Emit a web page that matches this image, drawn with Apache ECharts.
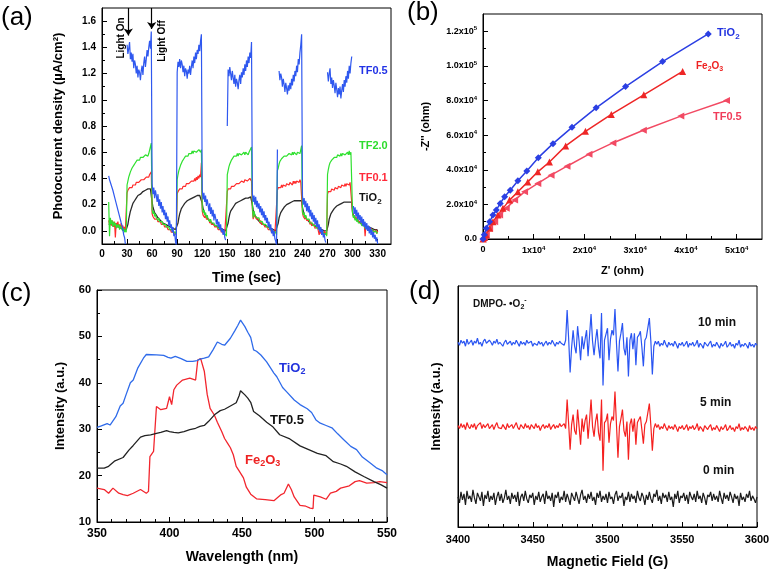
<!DOCTYPE html>
<html>
<head>
<meta charset="utf-8">
<script src="https://cdn.jsdelivr.net/npm/echarts@6.0.0/dist/echarts.min.js"></script>
<style>
html,body{margin:0;padding:0;background:#ffffff;}
#chart{width:772px;height:572px;}
</style>
</head>
<body>
<div id="chart"></div>
<script>
// ================= Panel (a): photocurrent, sampled every 1 s from t = 8 s =================
const aTimeStart = 8;
const aTimeStep = 1;
const aTF05 = [
0.42,0.39,0.40,0.35,0.34,0.31,0.30,0.26,0.25,0.21,0.20,0.16,0.15,0.11,0.10,0.06,0.04,0.01,-0.03,-0.05,-0.10,null,
1.42,1.35,1.39,1.44,1.31,1.36,1.29,1.35,1.24,1.30,1.27,1.20,1.26,1.17,1.23,1.21,1.15,1.22,1.26,1.19,1.28,1.33,1.25,1.31,1.38,1.33,1.40,1.45,1.39,1.52,
0.36,0.28,0.33,0.25,0.31,0.27,0.22,0.28,0.19,0.24,0.17,0.22,0.14,0.19,0.12,0.16,0.09,0.14,0.07,0.11,0.04,0.08,0.02,0.05,-0.01,0.03,-0.04,-0.02,-0.08,-0.12,
1.21,1.29,1.25,1.31,1.24,1.30,1.27,1.21,1.26,1.18,1.24,1.22,1.16,1.23,1.20,1.26,1.19,1.25,1.30,1.24,1.33,1.28,1.36,1.31,1.38,1.35,1.42,1.37,1.45,1.50,
0.31,0.24,0.29,0.22,0.27,0.19,0.24,0.20,0.15,0.21,0.13,0.18,0.11,0.16,0.08,0.13,0.10,0.05,0.09,0.03,0.07,0.01,0.05,-0.01,0.02,-0.03,0.01,-0.05,-0.07,null,
0.80,1.23,1.18,1.25,1.20,1.15,1.22,1.17,1.12,1.19,1.10,1.16,1.13,1.08,1.15,1.19,1.12,1.21,1.17,1.24,1.19,1.27,1.22,1.30,1.25,1.33,1.28,1.36,1.32,1.44,
0.29,0.22,0.27,0.20,0.26,0.18,0.23,0.17,0.21,0.14,0.19,0.12,0.17,0.10,0.15,0.08,0.12,0.06,0.10,0.03,0.07,0.01,0.05,-0.02,0.02,-0.04,0.00,-0.06,-0.08,-0.11,
0.62,null,1.22,1.15,1.20,1.17,1.10,1.16,1.12,1.06,1.13,1.09,1.04,1.11,1.07,1.13,1.08,1.16,1.11,1.19,1.14,1.22,1.18,1.26,1.21,1.31,1.27,1.36,1.42,1.50,
0.27,0.20,0.25,0.18,0.23,0.15,0.21,0.14,0.19,0.11,0.16,0.09,0.14,0.07,0.12,0.05,0.10,0.03,0.08,0.01,0.05,-0.01,0.03,-0.03,0.01,-0.05,-0.02,-0.07,-0.09,null,
1.21,1.14,1.20,1.24,1.12,1.17,1.09,1.15,1.11,1.05,1.13,1.08,1.02,1.09,1.04,1.10,1.01,1.07,1.12,1.06,1.15,1.10,1.18,1.13,1.22,1.16,1.26,1.20,1.28,1.33,
null,0.19,0.13,0.18,0.11,0.16,0.09,0.14,0.08,0.12,0.06,0.11,0.04,0.09,0.03,0.07,0.01,0.06,0.00,0.04,-0.02,0.03,-0.03,0.01,-0.05,-0.01,-0.06,-0.03,-0.08,-0.05,-0.10
];
const aTF20 = [
0.22,-0.04,0.10,0.05,0.08,0.03,0.07,0.04,0.06,0.02,0.05,0.03,0.05,0.01,0.04,0.02,0.03,0.00,0.02,-0.01,0.01,-0.01,
0.35,0.38,0.41,0.43,0.45,0.46,0.48,0.49,0.50,0.51,0.52,0.52,0.54,0.53,0.55,0.54,0.56,0.55,0.57,0.56,0.57,0.56,0.58,0.57,0.58,0.57,0.59,0.58,0.59,0.67,
0.16,0.13,0.15,0.11,0.13,0.10,0.11,0.08,0.10,0.07,0.08,0.06,0.07,0.05,0.06,0.04,0.05,0.03,0.04,0.02,0.03,0.01,0.02,0.00,0.01,-0.01,0.00,-0.02,-0.01,-0.03,
0.39,0.43,0.46,0.48,0.50,0.51,0.53,0.54,0.55,0.55,0.57,0.56,0.58,0.57,0.59,0.58,0.60,0.59,0.61,0.59,0.61,0.60,0.62,0.60,0.61,0.60,0.62,0.61,0.60,0.62,
0.18,0.14,0.16,0.12,0.14,0.10,0.12,0.09,0.10,0.07,0.09,0.06,0.07,0.05,0.06,0.04,0.05,0.03,0.04,0.02,0.03,0.01,0.02,0.00,0.01,-0.01,0.00,-0.02,-0.01,-0.04,
0.43,0.46,0.49,0.51,0.52,0.54,0.55,0.55,0.57,0.56,0.58,0.57,0.59,0.57,0.59,0.58,0.60,0.58,0.59,0.58,0.60,0.58,0.60,0.59,0.60,0.58,0.60,0.59,0.60,0.64,
0.19,0.10,0.15,0.12,0.13,0.10,0.11,0.09,0.10,0.07,0.08,0.06,0.07,0.05,0.06,0.04,0.05,0.03,0.04,0.02,0.03,0.01,0.02,0.00,0.01,-0.01,0.00,-0.02,-0.01,-0.03,
0.46,0.48,0.51,0.53,0.54,0.55,0.56,0.55,0.57,0.56,0.58,0.57,0.58,0.57,0.59,0.58,0.59,0.58,0.60,0.58,0.60,0.59,0.60,0.58,0.60,0.59,0.61,0.59,0.60,0.65,
0.15,0.12,0.14,0.10,0.12,0.09,0.10,0.08,0.09,0.06,0.07,0.05,0.06,0.04,0.05,0.03,0.04,0.02,0.03,0.01,0.02,0.00,0.01,-0.01,0.00,-0.02,-0.01,-0.03,-0.02,-0.04,
0.43,0.47,0.50,0.52,0.53,0.54,0.55,0.55,0.56,0.56,0.57,0.56,0.58,0.57,0.58,0.57,0.59,0.57,0.59,0.58,0.60,0.58,0.59,0.58,0.60,0.58,0.61,0.58,0.60,0.61,
0.13,0.10,0.12,0.08,0.10,0.07,0.09,0.06,0.07,0.05,0.06,0.04,0.05,0.03,0.04,0.02,0.03,0.01,0.02,0.00,0.02,0.00,0.01,-0.01,0.01,-0.01,0.00,-0.02,0.00,-0.02,-0.01
];
const aTF01 = [
0.08,0.05,0.09,0.04,0.08,0.06,0.03,0.07,-0.05,0.06,0.04,0.07,0.03,0.05,0.02,0.06,0.02,0.04,0.00,0.03,0.01,0.02,
0.29,0.31,0.30,0.33,0.32,0.34,0.33,0.35,0.34,0.36,0.35,0.37,0.36,0.38,0.37,0.38,0.37,0.39,0.38,0.40,0.39,0.40,0.39,0.41,0.40,0.42,0.41,0.43,0.42,0.45,
0.13,0.11,0.12,0.09,0.10,0.08,0.09,0.07,0.08,0.06,0.07,0.05,0.06,0.04,0.05,0.03,0.04,0.02,0.03,0.01,0.02,0.00,0.01,-0.01,0.00,-0.02,-0.01,-0.02,-0.01,-0.03,
0.28,0.30,0.31,0.32,0.31,0.33,0.32,0.34,0.33,0.35,0.34,0.36,0.35,0.37,0.36,0.37,0.36,0.38,0.37,0.39,0.38,0.40,0.38,0.41,0.39,0.42,0.40,0.43,0.41,0.52,
0.15,0.12,0.13,0.10,0.12,0.09,0.10,0.08,0.09,0.06,0.08,0.05,0.06,0.04,0.05,0.03,0.04,0.02,0.03,0.01,0.02,0.00,0.01,-0.01,0.01,-0.02,0.00,-0.02,-0.01,-0.03,
0.30,0.32,0.31,0.33,0.32,0.34,0.33,0.35,0.34,0.35,0.34,0.36,0.35,0.37,0.36,0.37,0.36,0.38,0.37,0.38,0.37,0.39,0.38,0.39,0.38,0.39,0.38,0.40,0.39,0.38,
0.17,0.09,0.13,0.11,0.12,0.09,0.10,0.08,0.09,0.06,0.08,0.05,0.06,0.04,0.05,0.03,0.04,0.02,0.03,0.01,0.02,0.00,0.01,-0.01,0.01,-0.02,0.00,-0.02,-0.01,-0.03,
0.31,0.33,0.32,0.34,0.33,0.35,0.33,0.35,0.34,0.36,0.34,0.36,0.35,0.37,0.35,0.37,0.36,0.37,0.35,0.38,0.36,0.38,0.36,0.38,0.37,0.39,0.37,0.39,0.37,0.38,
0.14,0.11,0.12,0.09,0.11,0.08,0.09,0.07,0.08,0.05,0.07,0.04,0.05,0.03,0.05,0.02,0.03,0.01,0.03,0.00,-0.03,0.01,-0.02,0.00,-0.01,-0.02,0.00,-0.03,-0.01,-0.03,
0.28,0.30,0.29,0.31,0.30,0.32,0.31,0.33,0.31,0.33,0.32,0.34,0.32,0.34,0.33,0.35,0.33,0.35,0.34,0.36,0.34,0.36,0.34,0.36,0.35,0.37,0.35,0.37,0.36,0.38,
0.14,0.11,0.12,0.09,0.11,0.08,0.10,0.07,0.08,0.06,0.07,0.05,0.06,0.04,0.05,-0.04,0.04,0.02,0.03,0.01,0.02,0.00,0.02,-0.01,0.01,0.00,0.02,-0.01,0.01,-0.02,0.00
];
const aTiO2 = [
0.05,0.05,0.05,0.05,0.04,0.04,0.04,0.04,0.04,0.03,0.03,0.03,0.03,0.03,0.02,0.02,0.02,0.02,0.01,0.01,0.01,0.01,
0.00,0.05,0.09,0.12,0.15,0.17,0.19,0.21,0.22,0.23,0.24,0.25,0.26,0.27,0.27,0.28,0.28,0.29,0.29,0.30,0.30,0.30,0.31,0.31,0.31,0.32,0.32,0.32,0.32,0.32,
0.22,0.18,0.16,0.14,0.13,0.12,0.11,0.10,0.09,0.09,0.08,0.07,0.07,0.06,0.06,0.05,0.05,0.04,0.04,0.04,0.03,0.03,0.03,0.02,0.02,0.02,0.01,0.01,0.01,0.00,
0.00,0.06,0.10,0.13,0.15,0.17,0.18,0.19,0.20,0.21,0.22,0.22,0.23,0.23,0.24,0.24,0.25,0.25,0.25,0.26,0.26,0.26,0.26,0.27,0.27,0.27,0.27,0.27,0.28,0.28,
0.21,0.17,0.15,0.13,0.12,0.11,0.10,0.09,0.08,0.08,0.07,0.06,0.06,0.05,0.05,0.04,0.04,0.04,0.03,0.03,0.03,0.02,0.02,0.02,0.01,0.01,0.01,0.00,0.00,0.00,
0.00,0.06,0.10,0.13,0.15,0.16,0.17,0.18,0.19,0.20,0.21,0.21,0.22,0.22,0.23,0.23,0.23,0.24,0.24,0.24,0.24,0.25,0.25,0.25,0.25,0.25,0.25,0.26,0.26,0.26,
0.20,0.16,0.14,0.12,0.11,0.10,0.09,0.08,0.08,0.07,0.06,0.06,0.05,0.05,0.04,0.04,0.04,0.03,0.03,0.03,0.02,0.02,0.02,0.01,0.01,0.01,0.01,0.00,0.00,0.00,
0.00,0.06,0.10,0.12,0.14,0.15,0.16,0.17,0.18,0.19,0.19,0.20,0.20,0.21,0.21,0.21,0.22,0.22,0.22,0.22,0.23,0.23,0.23,0.23,0.23,0.23,0.23,0.23,0.23,0.23,
0.18,0.15,0.13,0.11,0.10,0.09,0.08,0.08,0.07,0.06,0.06,0.05,0.05,0.04,0.04,0.04,0.03,0.03,0.03,0.02,0.02,0.02,0.01,0.01,0.01,0.01,0.00,0.00,0.00,0.00,
0.00,0.05,0.09,0.11,0.13,0.14,0.15,0.16,0.17,0.18,0.18,0.19,0.19,0.20,0.20,0.20,0.21,0.21,0.21,0.21,0.22,0.22,0.22,0.22,0.22,0.22,0.22,0.22,0.22,0.22,
0.14,0.12,0.11,0.10,0.09,0.08,0.08,0.07,0.07,0.06,0.06,0.05,0.05,0.05,0.04,0.04,0.04,0.03,0.03,0.03,0.03,0.02,0.02,0.02,0.02,0.01,0.01,0.01,0.01,0.01,0.00
];
const aXTicks = [0,30,60,90,120,150,180,210,240,270,300,330];
const aXLabels = ['0','30','60','90','120','150','180','210','240','270','300','330'];
const aXMinor = [15,45,75,105,135,165,195,225,255,285,315];
const aYTicks = [0,0.2,0.4,0.6,0.8,1.0,1.2,1.4,1.6];
const aYLabels = ['0.0','0.2','0.4','0.6','0.8','1.0','1.2','1.4','1.6'];
const aYMinor = [0.1,0.3,0.5,0.7,0.9,1.1,1.3,1.5];
const aArrowOn = [31.5, 1.7, 1.49];   // time, arrow tail, arrow tip
const aArrowOff = [59.5, 1.7, 1.54];

// ================= Panel (b): Nyquist plot [Z', -Z''] =================
const bTiO2 = [[0,0],[250,2500],[650,6160],[1310,9970],[1960,13800],[2620,16700],[3400,20560],[4260,24400],[5370,28200],[6880,33600],[8640,39350],[10900,47000],[13800,55100],[17550,64500],[22300,75800],[28100,88100],[35400,102500],[44400,118500]];
const bFe2O3 = [[0,0],[250,800],[650,2300],[1310,6160],[1960,9970],[2950,13800],[3930,17700],[5240,22470],[6880,27250],[8840,33000],[10800,38800],[13100,44500],[16300,53800],[20200,62200],[25300,72000],[31700,83300],[39350,96800]];
const bTF05 = [[0,0],[250,800],[650,2300],[1310,6160],[2300,9970],[3280,13800],[4580,17700],[6230,22470],[8190,27250],[10800,32080],[13420,36870],[16560,42050],[20900,49000],[25600,55500],[31600,62800],[39000,71000],[48000,80000]];
const bXTicks = [0,10000,20000,30000,40000,50000];
const bXLabels = ['0','1x10^4','2x10^4','3x10^4','4x10^4','5x10^4'];
const bXMinor = [5000,15000,25000,35000,45000];
const bYTicks = [0,20000,40000,60000,80000,100000,120000];
const bYLabels = ['0.0','2.0x10^4','4.0x10^4','6.0x10^4','8.0x10^4','1.0x10^5','1.2x10^5'];
const bYMinor = [10000,30000,50000,70000,90000,110000];

// ================= Panel (c): PL spectra [wavelength, intensity] =================
const cTiO2 = [[350,30.4],[353,30.7],[357,31.2],[359,30.9],[363,32.7],[366,35.0],[368,35.6],[370,37.4],[373,40.0],[375,40.6],[378,43.1],[382,45.3],[384,46.1],[391,46.0],[396,45.9],[399,45.5],[401,45.3],[404,45.7],[408,45.2],[412,44.6],[416,44.6],[419,44.8],[421,45.1],[424,45.3],[427,45.6],[430,47.1],[433,48.8],[436,48.3],[438,48.1],[442,49.6],[445,51.2],[447,52.3],[449,53.5],[450,53.7],[452,52.1],[454,50.9],[456,49.8],[458,47.1],[460,46.8],[463,46.0],[467,44.5],[472,42.1],[474,41.3],[478,39.0],[481,38.0],[486,36.3],[490,35.3],[495,34.4],[498,33.6],[501,32.0],[504,31.3],[508,30.8],[512,30.3],[516,29.0],[520,27.8],[525,26.3],[529,25.6],[533,24.0],[538,22.8],[543,21.6],[547,21.0],[550,20.2]];
const cTF05 = [[350,21.6],[355,21.6],[358,22.0],[362,23.1],[368,23.9],[372,25.5],[375,26.5],[380,28.3],[383,28.6],[387,28.8],[391,29.1],[394,29.3],[398,29.7],[400,29.5],[403,29.3],[406,29.2],[410,29.5],[414,29.9],[418,30.2],[421,30.6],[424,30.8],[427,31.7],[431,33.1],[435,34.0],[438,34.3],[442,35.0],[446,35.7],[448,37.2],[449,38.3],[452,37.4],[454,36.7],[456,35.8],[458,33.8],[462,32.9],[467,31.5],[471,30.6],[476,28.8],[483,27.9],[490,26.4],[496,25.6],[502,24.8],[508,24.3],[513,23.0],[518,22.5],[522,22.0],[528,20.8],[534,19.8],[541,18.7],[546,18.0],[550,17.3]];
const cFe2O3 = [[350,17.3],[355,17.0],[358,16.2],[361,17.3],[365,16.2],[368,15.9],[371,15.7],[375,16.2],[380,17.0],[384,16.2],[385.5,16.6],[386.5,24.1],[389,25.2],[390,25.0],[391,34.9],[394,34.2],[398,34.5],[400,37.0],[401.5,35.3],[403,38.5],[405,39.5],[409,40.6],[414,41.0],[418,40.6],[419.5,44.9],[421.5,45.2],[424,42.5],[426,37.5],[428,34.5],[431,33.0],[433,31.5],[436,29.5],[438,28.0],[440,27.0],[442,26.0],[444,24.5],[446,22.0],[448,21.0],[451,19.5],[453,17.5],[456,16.0],[460,15.0],[466,14.8],[472,14.6],[477,15.9],[479,16.2],[482,18.2],[484,17.0],[486,15.4],[490,13.6],[494,13.4],[497,13.0],[499,12.9],[499.5,15.8],[504,15.4],[508,14.9],[511,16.2],[515,16.6],[518,17.3],[524,17.8],[528,18.7],[531,18.9],[536,18.4],[541,18.5],[545,18.7],[550,18.5]];
const cXTicks = [350,400,450,500,550];
const cXLabels = ['350','400','450','500','550'];
const cXMinor = [360,370,380,390,410,420,430,440,460,470,480,490,510,520,530,540];
const cYTicks = [10,20,30,40,50,60];
const cYLabels = ['10','20','30','40','50','60'];
const cYMinor = [15,25,35,45,55];

// ================= Panel (d): EPR spectra, one value every 1 G from 3400 G (offset, arbitrary units) =================
const dFieldStart = 3400;
const dFieldStep = 1;
const d10min = [
184,181,186,183,185,180,187,182,184,186,181,185,183,188,182,184,180,185,187,183,
182,186,184,181,185,183,187,182,184,185,180,184,186,182,183,185,181,184,182,186,
183,180,185,182,184,181,186,183,182,185,180,183,184,181,185,182,184,180,183,185,
181,184,182,186,183,180,184,182,185,183,
184,181,186,216,188,154,179,196,180,173,200,185,166,190,177,187,196,170,191,212,
185,171,186,197,179,168,213,141,186,185,198,166,187,196,191,217,183,155,185,193,
203,178,171,189,150,186,193,177,193,161,189,191,195,179,160,186,189,189,208,185,
152,180,185,
182,185,180,183,181,186,182,179,184,181,183,180,185,182,178,183,181,184,180,182,
185,179,183,181,184,180,182,186,179,183,181,178,184,182,180,183,185,179,182,180,
184,181,178,183,180,182,185,179,181,184,180,182,178,183,181,186,179,182,180,183,
181,178,184,180,182,179,183,181
];
const d5min = [
101,98,103,99,102,97,104,100,98,102,99,103,97,101,100,104,98,102,99,101,
103,98,100,102,97,101,104,99,100,98,102,101,97,103,99,100,102,98,101,104,
99,97,102,100,98,103,99,101,97,102,100,98,103,99,101,96,100,102,98,101,
99,103,97,100,102,98,101,99,103,100,
100,103,98,127,103,77,102,112,96,92,117,100,82,108,95,106,112,88,106,127,
100,90,105,113,94,86,127,56,104,106,113,84,103,110,106,135,102,69,100,108,
117,96,90,105,67,102,108,95,108,82,104,107,110,97,83,102,105,104,123,101,
76,98,103,
99,102,97,100,98,103,99,96,101,98,100,97,102,99,95,100,98,101,97,99,
102,96,100,98,101,97,99,103,96,100,98,95,101,99,97,100,102,96,99,97,
101,98,95,100,97,99,102,96,98,101,97,99,95,100,98,103,96,99,97,100,
98,95,101,97,99,96,100,98
];
const d0min = [
30,24,35,27,33,22,36,28,31,25,37,29,23,34,30,26,35,21,32,28,
36,25,31,27,34,22,30,35,26,33,24,29,37,27,31,23,34,28,32,25,
35,21,30,33,26,36,28,24,32,29,34,22,31,27,35,25,30,33,23,36,
28,31,26,34,20,32,29,35,24,30,27,36,25,33,28,22,34,30,26,35,
29,23,32,37,27,31,24,33,28,35,26,30,22,34,29,36,25,31,27,33,
24,35,28,30,23,32,36,26,31,29,34,21,30,27,35,25,33,28,31,24,
36,29,26,34,30,22,32,27,35,28,24,33,30,37,26,31,23,34,29,32,
25,35,27,30,20,33,28,36,24,31,29,34,26,32,23,35,30,27,33,25,
36,28,31,24,34,29,22,32,30,35,26,33,27,31,25,36,29,23,34,28,
32,26,35,30,24,33,28,31,21,34,27,30,25,33,29,36,26,31,28,24,
30
];
const dXTicks = [3400,3450,3500,3550,3600];
const dXLabels = ['3400','3450','3500','3550','3600'];
const dXMinor = [3410,3420,3430,3440,3460,3470,3480,3490,3510,3520,3530,3540,3560,3570,3580,3590];

// ================= helpers =================
const FONT = "'Liberation Sans', Arial, Helvetica, sans-serif";
function sampled(start, step, arr) { return arr.map((v, i) => [start + i * step, v]); }
function lookup(ticks, labels) {
  return function (v) {
    const i = ticks.findIndex(t => Math.abs(t - v) < 1e-9);
    const s = i >= 0 ? labels[i] : '';
    const k = s.indexOf('^');
    return k < 0 ? '{m|' + s + '}' : '{m|' + s.slice(0, k) + '}{p|' + s.slice(k + 1) + '}';
  };
}
function richFor(fs) {
  return {
    m: { fontFamily: FONT, fontWeight: 'bold', fontSize: fs, color: '#000' },
    p: { fontFamily: FONT, fontWeight: 'bold', fontSize: Math.round(fs * 0.7), color: '#000', padding: [0, 0, Math.round(fs * 0.6), 0] }
  };
}
function axisPair(dim, gi, min, max, ticks, labels, minors, o) {
  const pos = dim === 'x' ? 'bottom' : 'left';
  const main = {
    type: 'value', gridIndex: gi, position: pos, min: min, max: max,
    axisLine: { show: true, onZero: false, lineStyle: { color: '#000', width: 1 } },
    axisTick: { show: ticks.length > 0, inside: true, length: 5, customValues: ticks.length ? ticks : undefined, lineStyle: { color: '#000', width: 1 } },
    axisLabel: { show: labels.length > 0, customValues: ticks.length ? ticks : undefined, formatter: lookup(ticks, labels), margin: o.margin,
      rich: richFor(o.fs), fontFamily: FONT, fontWeight: 'bold', fontSize: o.fs, color: '#000' },
    splitLine: { show: false },
    name: o.name, nameLocation: 'middle', nameGap: o.gap,
    nameTextStyle: { fontFamily: FONT, fontWeight: 'bold', fontSize: o.nfs, color: '#000' }
  };
  const minor = {
    type: 'value', gridIndex: gi, position: pos, min: min, max: max,
    axisLine: { show: false, onZero: false },
    axisTick: { show: minors.length > 0, inside: true, length: 3, customValues: minors.length ? minors : undefined, lineStyle: { color: '#000', width: 1 } },
    axisLabel: { show: false }, splitLine: { show: false }
  };
  return [main, minor];
}
function txt(x, y, text, color, size, rich, extra) {
  const el = { type: 'text', x: x, y: y, z: 100, silent: true,
    style: { text: text, fill: color, font: 'bold ' + size + 'px ' + FONT, align: 'left', verticalAlign: 'middle' } };
  if (rich) el.style.rich = rich;
  return Object.assign(el, extra || {});
}
function subRich(color, size) {
  return {
    n: { fill: color, fontFamily: FONT, fontWeight: 'bold', fontSize: size },
    s: { fill: color, fontFamily: FONT, fontWeight: 'bold', fontSize: Math.round(size * 0.72), padding: [Math.round(size * 0.6), 0, 0, 0] },
    p: { fill: color, fontFamily: FONT, fontWeight: 'bold', fontSize: Math.round(size * 0.72), padding: [0, 0, Math.round(size * 0.8), 0] }
  };
}

const gridBase = { show: true, borderColor: '#000', borderWidth: 1, backgroundColor: 'transparent', containLabel: false, outerBoundsMode: 'none' };
const xAxes = [].concat(
  axisPair('x', 0, 0, 346, aXTicks, aXLabels, aXMinor, { fs: 10, margin: 5, name: 'Time (sec)', gap: 27, nfs: 14 }),
  axisPair('x', 1, 0, 55000, bXTicks, bXLabels, bXMinor, { fs: 9, margin: 6, name: "Z' (ohm)", gap: 26, nfs: 11 }),
  axisPair('x', 2, 350, 550, cXTicks, cXLabels, cXMinor, { fs: 12, margin: 6, name: 'Wavelength (nm)', gap: 28, nfs: 14 }),
  axisPair('x', 3, 3400, 3600, dXTicks, dXLabels, dXMinor, { fs: 11, margin: 7, name: 'Magnetic Field (G)', gap: 28, nfs: 14 })
);
const yAxes = [].concat(
  axisPair('y', 0, -0.1, 1.7, aYTicks, aYLabels, aYMinor, { fs: 10, margin: 6, name: 'Photocurrent density (µA/cm²)', gap: 37, nfs: 13 }),
  axisPair('y', 1, 0, 130000, bYTicks, bYLabels, bYMinor, { fs: 9, margin: 6, name: "-Z'' (ohm)", gap: 52, nfs: 11 }),
  axisPair('y', 2, 10, 60, cYTicks, cYLabels, cYMinor, { fs: 11, margin: 6, name: 'Intensity (a.u.)', gap: 30, nfs: 13 }),
  axisPair('y', 3, 0, 240, [], [], [], { fs: 11, margin: 6, name: 'Intensity (a.u.)', gap: 15, nfs: 13 })
);

function lineS(name, ai, data, color, width, extra) {
  return Object.assign({ name: name, type: 'line', xAxisIndex: ai, yAxisIndex: ai, data: data, showSymbol: false,
    symbol: 'none', lineStyle: { color: color, width: width }, itemStyle: { color: color }, silent: true, clip: true,
    connectNulls: false }, extra || {});
}
function markS(name, ai, data, color, symbol, rotate) {
  return { name: name, type: 'line', xAxisIndex: ai, yAxisIndex: ai, data: data, symbol: symbol, symbolSize: 7,
    symbolRotate: rotate, showSymbol: true, lineStyle: { color: color, width: 1.5 }, itemStyle: { color: color }, silent: true };
}

const series = [
  lineS('TiO2', 0, sampled(aTimeStart, aTimeStep, aTiO2), '#2a2a2a', 1.3),
  lineS('TF0.1', 0, sampled(aTimeStart, aTimeStep, aTF01), '#ff2b2b', 1.2),
  lineS('TF2.0', 0, sampled(aTimeStart, aTimeStep, aTF20), '#2fe02f', 1.2),
  lineS('TF0.5', 0, sampled(aTimeStart, aTimeStep, aTF05), '#2f58ef', 1.2, {
    markLine: { silent: true, symbol: ['none', 'arrow'], symbolSize: 7, label: { show: false },
      lineStyle: { color: '#000', width: 1.2, type: 'solid' },
      data: [
        [{ coord: [aArrowOn[0], aArrowOn[1]] }, { coord: [aArrowOn[0], aArrowOn[2]] }],
        [{ coord: [aArrowOff[0], aArrowOff[1]] }, { coord: [aArrowOff[0], aArrowOff[2]] }]
      ] }
  }),
  markS('TF0.5 EIS', 2, bTF05, '#f24a63', 'triangle', 90),
  markS('Fe2O3 EIS', 2, bFe2O3, '#ee2626', 'triangle', 0),
  markS('TiO2 EIS', 2, bTiO2, '#2b3fe3', 'diamond', 0),
  lineS('Fe2O3 PL', 4, cFe2O3, '#f2262e', 1.3),
  lineS('TF0.5 PL', 4, cTF05, '#222222', 1.3),
  lineS('TiO2 PL', 4, cTiO2, '#2f6bea', 1.3),
  lineS('0 min', 6, sampled(dFieldStart, dFieldStep, d0min), '#1a1a1a', 1.2),
  lineS('5 min', 6, sampled(dFieldStart, dFieldStep, d5min), '#f5201f', 1.2),
  lineS('10 min', 6, sampled(dFieldStart, dFieldStep, d10min), '#2a55f2', 1.2)
];

const panelFont = "26px " + FONT;
const graphics = [
  { type: 'text', x: 1, y: 18, silent: true, style: { text: '(a)', font: panelFont, fill: '#000', verticalAlign: 'middle' } },
  { type: 'text', x: 407, y: 13, silent: true, style: { text: '(b)', font: panelFont, fill: '#000', verticalAlign: 'middle' } },
  { type: 'text', x: 1, y: 294, silent: true, style: { text: '(c)', font: panelFont, fill: '#000', verticalAlign: 'middle' } },
  { type: 'text', x: 409, y: 292, silent: true, style: { text: '(d)', font: panelFont, fill: '#000', verticalAlign: 'middle' } },
  // panel (a)
  txt(121, 38, 'Light On', '#000', 10, null, { rotation: Math.PI / 2, style: { text: 'Light On', fill: '#000', font: 'bold 10px ' + FONT, align: 'center', verticalAlign: 'middle' } }),
  txt(162, 41, 'Light Off', '#000', 10, null, { rotation: Math.PI / 2, style: { text: 'Light Off', fill: '#000', font: 'bold 10px ' + FONT, align: 'center', verticalAlign: 'middle' } }),
  txt(359, 71, 'TF0.5', '#2233e6', 11),
  txt(359, 146, 'TF2.0', '#2edc2e', 11),
  txt(359, 178, 'TF0.1', '#ff2a3a', 11),
  txt(359, 198, '{n|TiO}{s|2}', '#111', 11, subRich('#111', 11)),
  // panel (b)
  txt(717, 33, '{n|TiO}{s|2}', '#2233e0', 11, subRich('#2233e0', 11)),
  txt(696, 66, '{n|Fe}{s|2}{n|O}{s|3}', '#ee2222', 10, subRich('#ee2222', 10)),
  txt(713, 117, 'TF0.5', '#f03c5a', 11),
  // panel (c)
  txt(279, 368, '{n|TiO}{s|2}', '#2233dd', 13, subRich('#2233dd', 13)),
  txt(270, 420, 'TF0.5', '#111', 13),
  txt(245, 460, '{n|Fe}{s|2}{n|O}{s|3}', '#ee2222', 13, subRich('#ee2222', 13)),
  // panel (d)
  txt(473, 304, '{n|DMPO- •O}{s|2}{p|-}', '#111', 10, subRich('#111', 10)),
  txt(698, 323, '10 min', '#111', 12),
  txt(700, 403, '5 min', '#111', 12),
  txt(703, 471, '0 min', '#111', 12)
];

const chart = echarts.init(document.getElementById('chart'), null, { renderer: 'canvas', width: 772, height: 572 });
chart.setOption({
  backgroundColor: '#ffffff',
  animation: false,
  textStyle: { fontFamily: FONT },
  grid: [
    Object.assign({ left: 102, top: 8, width: 289, height: 236 }, gridBase),
    Object.assign({ left: 483, top: 14, width: 279, height: 225 }, gridBase),
    Object.assign({ left: 97, top: 290, width: 290, height: 232 }, gridBase),
    Object.assign({ left: 458, top: 286, width: 299, height: 241 }, gridBase)
  ],
  xAxis: xAxes,
  yAxis: yAxes,
  series: series,
  graphic: graphics
});
</script>
</body>
</html>
